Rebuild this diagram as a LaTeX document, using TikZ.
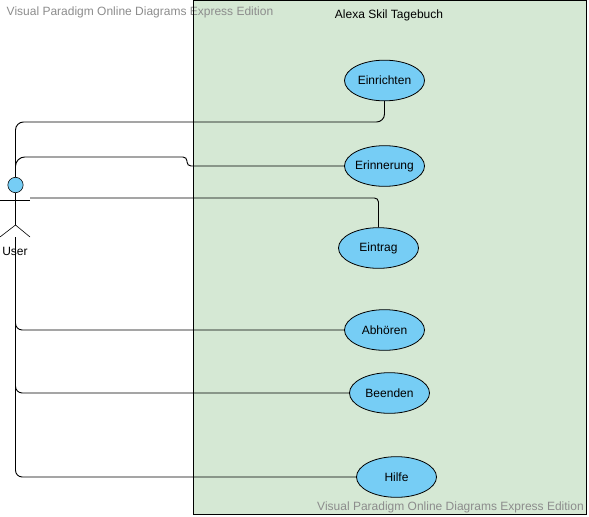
\documentclass[tikz,border=0pt]{standalone}
\usepackage{fontspec}
\setmainfont{Liberation Sans}
\usetikzlibrary{shapes.geometric}
\definecolor{boxgreen}{HTML}{D5E8D4}
\definecolor{caseblue}{HTML}{76CDF5}
\definecolor{markgray}{HTML}{8C8C8C}
\tikzset{
  casedecorate/.style={shape=ellipse,draw,line width=0.6pt,fill=caseblue,
    minimum width=60pt,minimum height=30.5pt,inner sep=-4pt,font=\fontsize{9}{11}\selectfont},
  linedecorate/.style={-,line width=0.7pt},
  actordecorate/.style={-,line width=0.45pt},
  textdecorate/.style={inner sep=0pt,font=\fontsize{9}{11}\selectfont},
  markdecorate/.style={textdecorate,text=markgray}
}
\begin{document}
\begin{tikzpicture}[x=0.75pt,y=-0.75pt]
\useasboundingbox (0,0) rectangle (589,517);
%% system box and texts
\fill [boxgreen] (193,1) rectangle (586,514);
\node (mark0) at (140,12) [markdecorate] {Visual Paradigm Online Diagrams Express Edition};
\draw [line width=0.6pt] (193,0.5) rectangle (586,514);
\node (title) at (389,15) [textdecorate] {Alexa Skil Tagebuch};
\node (mark2) at (450.5,507) [markdecorate] {Visual Paradigm Online Diagrams Express Edition};
%% actor
\node (userhead) at (15.5,185) [shape=circle,draw,actordecorate,fill=caseblue,minimum size=11.5pt,inner sep=0pt] {};
\node (userlabel) at (15,251.5) [textdecorate] {User};
\coordinate (userneck) at (15.5,225);
\coordinate (userfoot) at (15.5,237);
\coordinate (userhand) at (30,198);
\draw [actordecorate] (userhead) -- (userneck);
\draw [actordecorate] (0,200.5) -- (30,200.5);
\draw [actordecorate] (0,237) -- (userneck) -- (30,237);
%% use cases
\foreach \nodename/\x/\y/\casetext in {einrichten/384.5/80.5/Einrichten,
  erinnerung/384.5/166/Erinnerung, eintrag/378.5/248/Eintrag,
  abhoeren/384.5/330/Abhören, beenden/389.5/393/Beenden, hilfe/396.5/477/Hilfe} {
  \node (\nodename) at (\x,\y) [casedecorate] {\casetext};
}
%% connectors
\coordinate (bendtop) at (15.5,122);
\coordinate (bendmid) at (15.5,157);
\coordinate (bendstep) at (187,157);
\coordinate (bendlow) at (187,166);
\draw [linedecorate,rounded corners=6pt] (einrichten.south) |- (bendtop) -- (userhead.north);
\draw [linedecorate,rounded corners=3pt] (erinnerung.west) -- (bendlow) -- (bendstep)
  [rounded corners=7pt] -- (bendmid) -- (userhead.north);
\draw [linedecorate,rounded corners=3pt] (eintrag.north) |- (userhand);
\foreach \endnode in {abhoeren, beenden, hilfe} {
  \draw [linedecorate,rounded corners=5pt] (userfoot) |- (\endnode.west);
}
\end{tikzpicture}
\end{document}
